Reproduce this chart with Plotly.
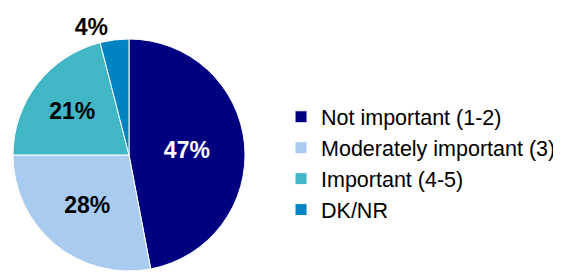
import plotly.graph_objects as go

categories = ["Not important (1-2)", "Moderately important (3)", "Important (4-5)", "DK/NR"]
values = [47, 28, 21, 4]
colors = ["#000080", "#A9CBEF", "#41B6C4", "#0083C1"]
text_colors = ["white", "black", "black", "black"]
text_positions = ["inside", "inside", "inside", "outside"]

# page body has an 8px default margin; size the figure to fill the rest of the window
W, H = 553, 265

fig = go.Figure(go.Pie(
    labels=categories,
    values=values,
    sort=False,
    direction="clockwise",
    rotation=0,
    marker=dict(colors=colors, line=dict(color="white", width=1)),
    texttemplate="%{percent:.0%}",
    textposition=text_positions,
    insidetextorientation="horizontal",
    textfont=dict(family="Liberation Sans, Arial", size=23, color=text_colors, weight="bold"),
    outsidetextfont=dict(family="Liberation Sans, Arial", size=23, color="black", weight="bold"),
    domain=dict(x=[4 / W, 238 / W], y=[2 / H, 234 / H]),
    hoverinfo="skip",
))

fig.update_layout(
    width=W, height=H,
    margin=dict(l=0, r=0, t=0, b=0, autoexpand=False),
    paper_bgcolor="white",
    plot_bgcolor="white",
    showlegend=True,
    legend=dict(
        x=0.4937, y=0.414, xanchor="left", yanchor="middle",
        font=dict(family="Liberation Sans, Arial", size=21.5, color="black"),
        bgcolor="rgba(0,0,0,0)",
    ),
)

fig.write_html("out.html")
